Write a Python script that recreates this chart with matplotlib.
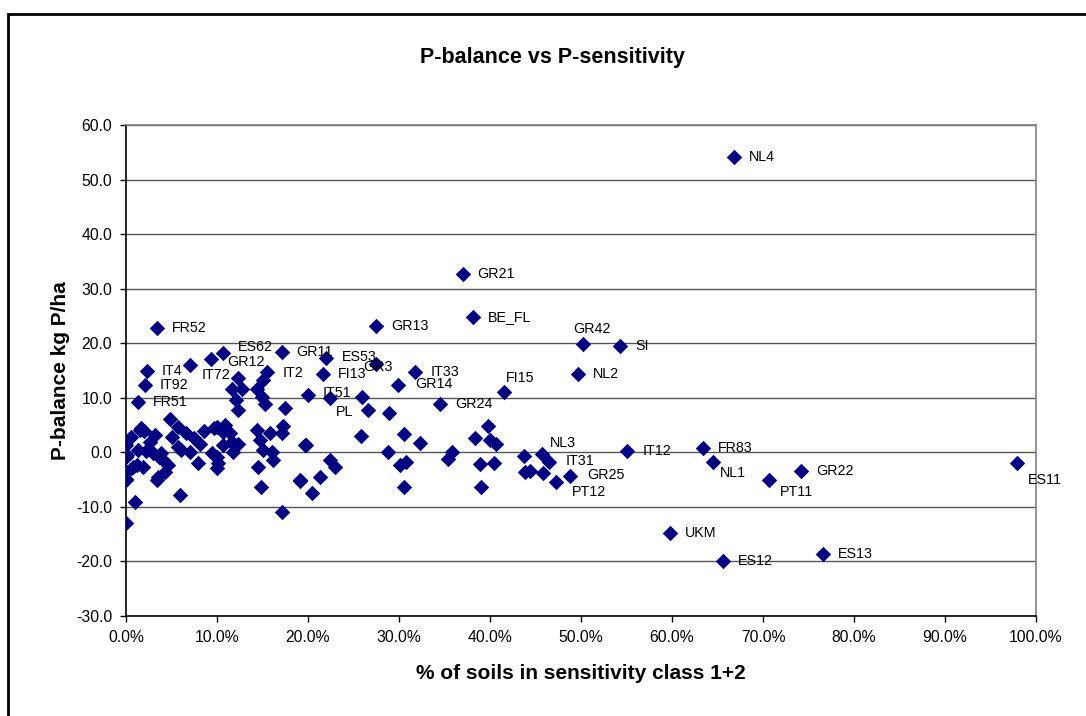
import matplotlib
matplotlib.use("Agg")
import matplotlib.pyplot as plt
from matplotlib.patches import Rectangle
from matplotlib.ticker import FuncFormatter, MultipleLocator

plt.rcParams['font.family'] = ['Liberation Sans', 'DejaVu Sans']

# ---- data: % of soils in sensitivity class 1+2 (x, in %) and P-balance (y, kg P/ha)
labels = ["NL4", "GR21", "BE_FL", "GR13", "FR52", "GR42", "SI", "NL2", "FI15", "GR24",
          "IT33", "GR14", "GR3", "ES53", "FI13", "IT51", "PL", "GR11", "ES62", "GR12",
          "IT72", "IT2", "IT4", "IT92", "FR51", "NL3", "IT31", "GR25", "PT12", "IT12",
          "FR83", "NL1", "UKM", "ES12", "ES13", "PT11", "GR22", "ES11"]
labelled_x = [66.8, 37.0, 38.1, 27.5, 3.4, 50.2, 54.3, 49.7, 41.5, 34.5,
              31.8, 29.9, 27.5, 22.0, 21.6, 22.4, 26.6, 17.1, 10.7, 9.3,
              7.0, 15.5, 2.3, 2.1, 1.3, 45.7, 46.5, 48.8, 47.3, 55.1,
              63.4, 64.5, 59.8, 65.6, 76.6, 70.7, 74.2, 97.9]
labelled_y = [54.1, 32.6, 24.8, 23.2, 22.8, 19.9, 19.5, 14.4, 11.1, 8.8,
              14.8, 12.3, 16.2, 17.3, 14.4, 10.0, 7.8, 18.4, 18.2, 17.1,
              16.0, 14.8, 14.9, 12.3, 9.2, -0.3, -1.8, -4.3, -5.4, 0.2,
              0.8, -1.8, -14.8, -19.9, -18.7, -5.1, -3.4, -2.0]

other_x = [20.0, 25.9, 28.9, 19.8, 25.8, 30.5, 32.3, 28.8, 30.1, 30.8,
           22.4, 23.0, 19.1, 21.3, 20.4, 30.5, 38.4, 39.8, 40.0, 40.7,
           35.8, 35.4, 38.9, 40.4, 39.0, 43.7, 43.8, 44.4, 45.8,
           12.3, 11.6, 12.7, 14.4, 14.9, 15.3, 17.5, 15.0, 12.1, 12.3,
           4.8, 5.7, 6.6, 7.5, 9.7, 10.7, 11.6, 1.5, 0.6, 3.2,
           2.6, 0.0, 0.0, 1.3, 0.8, 1.9, 3.9, 4.6, 3.5, 5.7,
           7.0, 8.1, 7.9, 9.4, 10.1, 11.9, 1.7, 0.0, 0.1, 1.2,
           3.0, 4.1, 10.0, 10.9, 11.4, 12.3, 10.7, 11.8, 10.0, 10.0,
           14.4, 15.8, 17.3, 17.1, 14.7, 15.1, 16.0, 16.2, 14.5, 14.8,
           19.1, 17.1, 19.7, 0.0, 1.0, 0.0, 3.4, 4.3, 5.9, 0.1,
           2.0, 5.0, 8.6, 6.0, 2.2, 3.6]
other_y = [10.5, 10.2, 7.3, 1.3, 3.0, 3.4, 1.8, 0.1, -2.3, -1.8,
           -1.4, -2.6, -5.1, -4.5, -7.4, -6.4, 2.6, 4.8, 2.3, 1.5,
           0.1, -1.3, -2.1, -1.9, -6.3, -0.7, -3.6, -3.4, -3.7,
           13.7, 11.7, 11.7, 11.7, 10.2, 8.9, 8.1, 13.3, 9.6, 7.8,
           6.2, 4.7, 3.5, 2.6, 4.4, 3.8, 1.9, 4.1, 2.9, 3.2,
           1.9, 1.3, -0.8, 0.4, -2.6, -2.6, -0.2, -2.3, -4.5, 1.0,
           0.1, 1.6, -2.0, -0.2, -2.0, 1.3, 4.4, -5.1, -3.6, -2.3,
           -0.1, -1.4, 4.7, 5.0, 3.5, 1.6, 1.3, 0.1, -0.8, -2.9,
           4.1, 3.5, 4.8, 3.5, 2.3, 0.4, 0.1, -1.4, -2.6, -6.4,
           -5.2, -10.9, 1.3, -12.9, -9.1, -4.9, -5.1, -3.6, -7.8, -0.5,
           3.9, 2.8, 4.0, 0.5, 0.2, -0.9]

# label placement (pixel offsets from the marker, horizontal alignment)
label_offsets = {
    "GR42": (-10, 15, "left"), "FI15": (2, 14, "left"), "GR3": (-13, -3, "left"),
    "IT51": (-7, 5, "left"), "PL": (-15, -2, "right"), "ES62": (15, 6, "left"),
    "GR12": (17, -3, "left"), "IT72": (12, -10, "left"), "NL3": (8, 11, "left"),
    "IT31": (16, 1, "left"), "GR25": (17, 1, "left"), "PT12": (15, -10, "left"),
    "NL1": (7, -11, "left"), "PT11": (11, -12, "left"), "ES11": (11, -17, "left"),
    "ES53": (16, 1, "left"), "GR14": (17, 1, "left"), "IT2": (16, -1, "left"),
}

navy = "#000080"

fig = plt.figure(figsize=(10.86, 7.16), dpi=100)
ax = fig.add_axes([126 / 1086, 1 - 616 / 716, (1036 - 126) / 1086, (616 - 125) / 716])

ax.scatter(other_x, other_y, marker="D", s=62, color=navy, linewidths=0, zorder=3)
ax.scatter(labelled_x, labelled_y, marker="D", s=62, color=navy, linewidths=0, zorder=3)

for name, x, y in zip(labels, labelled_x, labelled_y):
    dx, dy, ha = label_offsets.get(name, (15, 0, "left"))
    ax.annotate(name, (x, y), xytext=(dx, dy), textcoords="offset pixels",
                ha=ha, va="center", fontsize=10.3, color="black", zorder=4)

ax.set_xlim(0, 100)
ax.set_ylim(-30, 60)
ax.xaxis.set_major_locator(MultipleLocator(10))
ax.yaxis.set_major_locator(MultipleLocator(10))
ax.xaxis.set_major_formatter(FuncFormatter(lambda v, p: f"{v:.1f}%"))
ax.yaxis.set_major_formatter(FuncFormatter(lambda v, p: f"{v:.1f}"))
ax.tick_params(axis="both", direction="out", length=4, width=1, labelsize=11.3, pad=6,
               color="black")
ax.grid(axis="y", color="#555555", linewidth=1)
ax.set_axisbelow(True)
for side in ("top", "right"):
    ax.spines[side].set_color("#808080")
    ax.spines[side].set_linewidth(1.2)
for side in ("left", "bottom"):
    ax.spines[side].set_color("black")
    ax.spines[side].set_linewidth(1.2)

ax.set_xlabel("% of soils in sensitivity class 1+2", fontsize=15, fontweight="bold",
              labelpad=14)
ax.set_ylabel("P-balance kg P/ha", fontsize=15, fontweight="bold", labelpad=4)
fig.text(552 / 1086, 1 - 58 / 716, "P-balance vs P-sensitivity", ha="center",
         va="center", fontsize=15.5, fontweight="bold")

# outer chart frame
fig.patches.append(Rectangle((8 / 1086, -0.2), 1.2, 1 - 14 / 716 + 0.2,
                             transform=fig.transFigure, fill=False,
                             edgecolor="black", linewidth=2))

fig.savefig("out.png", dpi=100, facecolor="white")
